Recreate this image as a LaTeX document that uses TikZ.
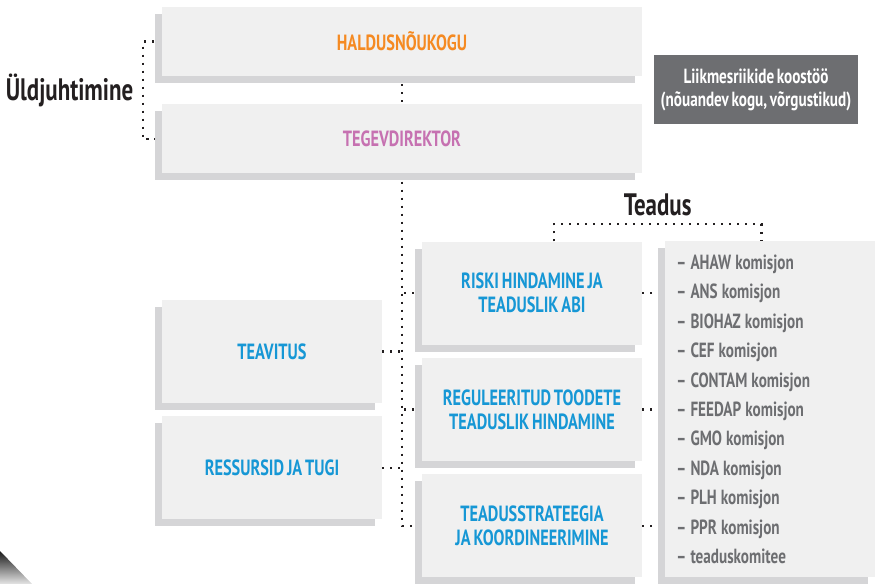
\documentclass[tikz,border=0pt]{standalone}
\usepackage{fontspec}
\setmainfont{PT Sans}[FakeStretch=0.74, WordSpace=0.7]
\usetikzlibrary{positioning, shadows, backgrounds}

\definecolor{boxfill}{HTML}{F0F0F0}
\definecolor{boxshade}{HTML}{D5D5D7}
\definecolor{efsaorange}{HTML}{F58A22}
\definecolor{efsapink}{HTML}{C671B1}
\definecolor{efsablue}{HTML}{1697D5}
\definecolor{listgray}{HTML}{6D6E71}
\definecolor{inkdark}{HTML}{231F20}
\newcommand\listspacing{\spaceskip=0.2em\relax}

\begin{document}
\begin{tikzpicture}[x=1pt, y=-1pt,
     node distance = 13pt and 23pt,
        unit/.style = {rectangle, fill=boxfill, minimum width=220pt, minimum height=103pt,
                       align=center, text=efsablue, font=\bfseries\fontsize{22}{24}\selectfont,
                       drop shadow={shadow xshift=-7pt, shadow yshift=-7pt, opacity=1, fill=boxshade}},
        wide/.style = {minimum width=480pt, minimum height=69pt},
        conn/.style = {draw=inkdark, line width=2.2pt, dash pattern=on 2.2pt off 5.8pt},
     heading/.style = {font=\bfseries\fontsize{31}{34}\selectfont, text=inkdark}
                        ]
\useasboundingbox (0,0) rectangle (876,584);
\shade[top color=black!90, bottom color=black!10] (0,551) -- (32,584) -- (0,584) -- cycle;
\node (board)[unit, wide, text=efsaorange] at (402,41.5) {HALDUSNÕUKOGU};
\node (director)[unit, wide, text=efsapink, below=28pt of board] {TEGEVDIREKTOR};
\node (members)[rectangle, fill=listgray, text=white, minimum width=204pt, minimum height=69pt,
                align=center, font=\bfseries\fontsize{20.5}{23}\selectfont] at (756,89.5)
                {Liikmesriikide koostöö\\(nõuandev kogu, võrgustikud)};
\node (comm)[unit] at (272,351.5) {TEAVITUS};
\node (support)[unit, below=of comm] {RESSURSID JA TUGI};
\node (risk)[unit] at (532,293) {RISKI HINDAMINE JA\\TEADUSLIK ABI};
\node (regulated)[unit, below=of risk] {REGULEERITUD TOODETE\\TEADUSLIK HINDAMINE};
\node (strategy)[unit, below=of regulated] {TEADUSSTRATEEGIA\\JA KOORDINEERIMINE};
\node (panels)[unit, right=of regulated, minimum width=210pt, minimum height=336pt,
               text width=188pt, inner xsep=11pt, align=left, text=listgray,
               font=\bfseries\fontsize{20.5}{29.4}\selectfont]
               {\listspacing – AHAW komisjon\\– ANS komisjon\\– BIOHAZ komisjon\\– CEF komisjon\\
                – CONTAM komisjon\\– FEEDAP komisjon\\– GMO komisjon\\– NDA komisjon\\
                – PLH komisjon\\– PPR komisjon\\– teaduskomitee};
\coordinate (sciright) at ([xshift=-9pt]panels.north);
\begin{scope}[on background layer]
\draw[conn] (board.west) -- ++(-19,0) coordinate (govtop) |- (director.west);
\draw[conn] (board) -- (director);
\draw[conn] (director.south) |- (strategy.west);
\draw[conn] (risk.west) -- (risk.west -| director.south);
\draw[conn] (regulated.west) -- (regulated.west -| director.south);
\draw[conn] (comm.east) -- (comm.east -| director.south);
\draw[conn] (support.east) -- (support.east -| director.south);
\draw[conn] (risk.east) -- (risk.east -| panels.west);
\draw[conn] (regulated.east) -- (panels.west);
\draw[conn] (strategy.east) -- (strategy.east -| panels.west);
\end{scope}
\path (govtop) -- (govtop |- director.west) node[midway, heading, left=6pt] (governance) {Üldjuhtimine};
\draw[conn] ([xshift=22pt]risk.north) -- ++(0,-17) coordinate (scileft)
            -- (scileft -| sciright) node[midway, heading, above=4pt] (science) {Teadus} -- (sciright);
\end{tikzpicture}
\end{document}
